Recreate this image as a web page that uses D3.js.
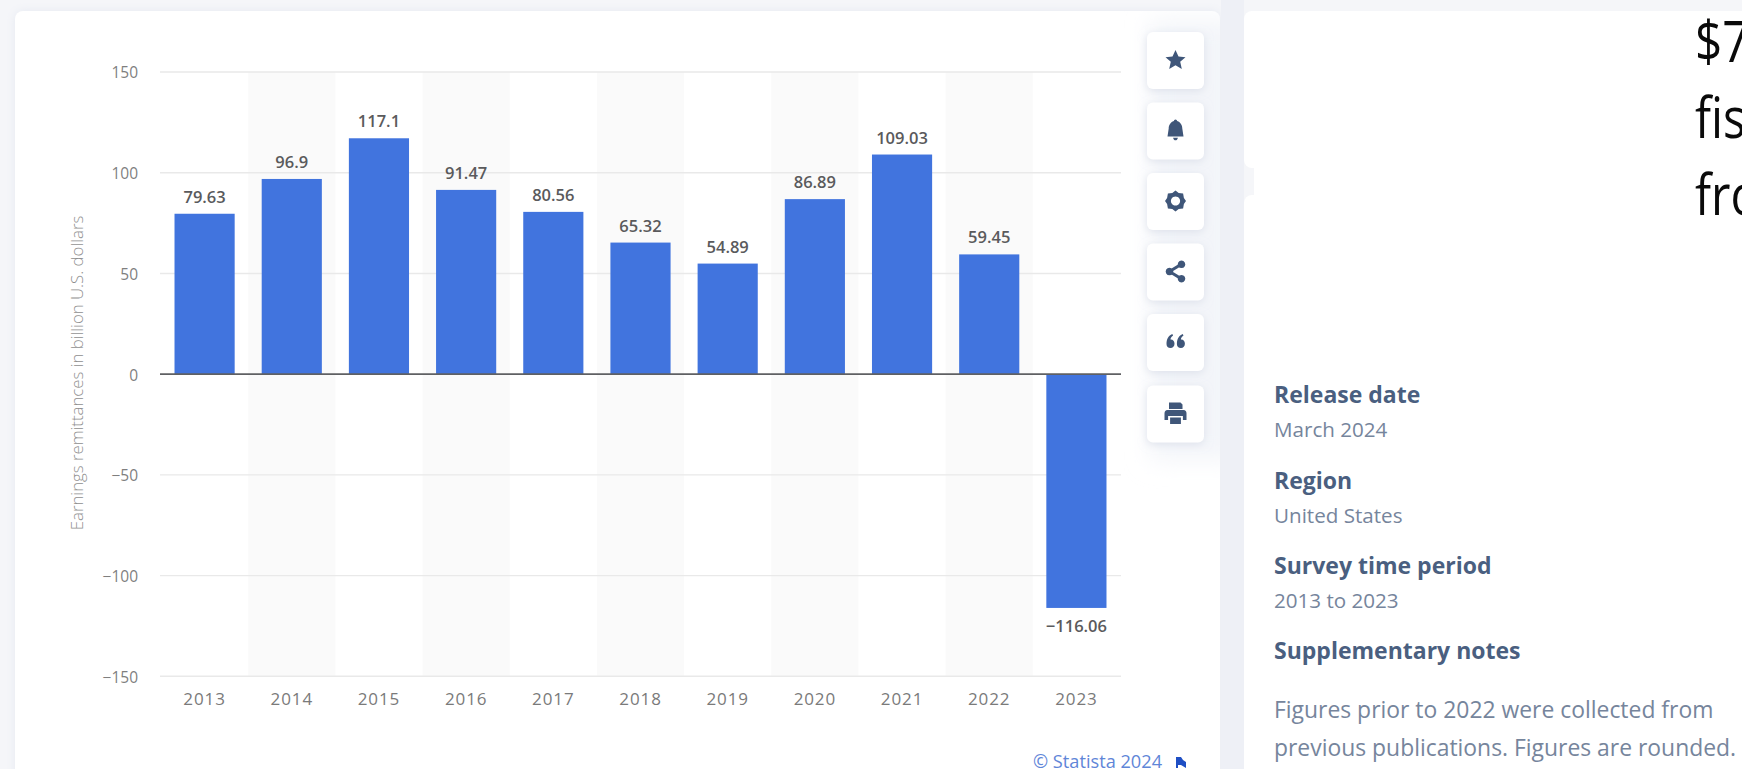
<!DOCTYPE html>
<html>
<head>
<meta charset="utf-8">
<script src="https://d3js.org/d3.v7.min.js"></script>
<style>
  html, body { margin: 0; padding: 0; background: #f5f6f9; overflow: hidden; }
  svg { display: block; }
  text { font-family: "Open Sans", "Noto Sans", sans-serif; }
</style>
</head>
<body>
<svg id="page" width="1742" height="769"></svg>
<script>
// Federal Reserve earnings remittances, billion U.S. dollars
const years = ["2013","2014","2015","2016","2017","2018","2019","2020","2021","2022","2023"];
const remittances = [79.63, 96.9, 117.1, 91.47, 80.56, 65.32, 54.89, 86.89, 109.03, 59.45, -116.06];
const valueLabels = ["79.63","96.9","117.1","91.47","80.56","65.32","54.89","86.89","109.03","59.45","\u2212116.06"];
const yTicks = [150, 100, 50, 0, -50, -100, -150];
const yAxisTitle = "Earnings remittances in billion U.S. dollars";
const sidebarHeadings = ["Release date", "Region", "Survey time period", "Supplementary notes"];
const sidebarValues = ["March 2024", "United States", "2013 to 2023"];
const sidebarNotes = ["Figures prior to 2022 were collected from", "previous publications. Figures are rounded."];
const overlayLines = ["$7", "fis", "fro"];

const svg = d3.select("#page");
const defs = svg.append("defs");

const cardShadow = defs.append("filter").attr("id", "cardShadow")
  .attr("x", "-10%").attr("y", "-10%").attr("width", "120%").attr("height", "120%");
cardShadow.append("feDropShadow").attr("dx", 0).attr("dy", 0).attr("stdDeviation", 5)
  .attr("flood-color", "#dfe3ee").attr("flood-opacity", 0.7);

const buttonShadow = defs.append("filter").attr("id", "buttonShadow")
  .attr("x", "-40%").attr("y", "-40%").attr("width", "180%").attr("height", "180%");
buttonShadow.append("feDropShadow").attr("dx", 0).attr("dy", 2).attr("stdDeviation", 4)
  .attr("flood-color", "#d3d8e5").attr("flood-opacity", 0.7);

const railHaze = defs.append("filter").attr("id", "railHaze")
  .attr("x", "-30%").attr("y", "-10%").attr("width", "160%").attr("height", "120%");
railHaze.append("feGaussianBlur").attr("stdDeviation", 12);

const cardClip = defs.append("clipPath").attr("id", "cardClip");
cardClip.append("rect").attr("x", 15).attr("y", 11).attr("width", 1205).attr("height", 780).attr("rx", 8);

// Page panels
svg.append("rect").attr("x", 0).attr("y", 0).attr("width", 1742).attr("height", 769).attr("fill", "#f5f6f9");
svg.append("rect").attr("x", 15).attr("y", 11).attr("width", 1205).attr("height", 780).attr("rx", 8)
  .attr("fill", "#fff").attr("filter", "url(#cardShadow)");
svg.append("g").attr("clip-path", "url(#cardClip)")
  .append("rect").attr("x", 1150).attr("y", 20).attr("width", 90).attr("height", 440)
  .attr("fill", "#f3f5f9").attr("filter", "url(#railHaze)");
svg.append("rect").attr("x", 1221).attr("y", 0).attr("width", 23).attr("height", 769).attr("fill", "#eef0f6");
svg.append("rect").attr("x", 1244).attr("y", 11).attr("width", 520).attr("height", 157).attr("rx", 8).attr("fill", "#fff");
svg.append("rect").attr("x", 1244).attr("y", 195).attr("width", 520).attr("height", 600).attr("rx", 8).attr("fill", "#fff");
svg.append("rect").attr("x", 1254).attr("y", 150).attr("width", 490).attr("height", 60).attr("fill", "#fff");

// Scales
const x = d3.scaleBand().domain(years).range([161, 1120]).paddingInner(0.31).paddingOuter(0.155);
const band = d3.scaleBand().domain(years).range([161, 1120]);
const y = d3.scaleLinear().domain([-150, 150]).range([676.3, 72]);

// Alternating column stripes
svg.append("g").selectAll("rect")
  .data(years.filter((d, i) => i % 2 === 1))
  .join("rect")
  .attr("x", d => band(d))
  .attr("y", y(150))
  .attr("width", band.bandwidth())
  .attr("height", y(-150) - y(150))
  .attr("fill", "#fafafa");

// Grid and value axis
const yAxis = d3.axisLeft(y).tickValues(yTicks).tickSize(0).tickPadding(0)
  .tickFormat(d => d3.format("d")(d).replace("-", "\u2212"));
const yG = svg.append("g").attr("transform", "translate(138,1)").call(yAxis);
yG.select(".domain").remove();
yG.selectAll("text").attr("font-size", 15.5).attr("fill", "#7f7f7f");

svg.append("g").selectAll("line")
  .data(yTicks.filter(d => d !== 0))
  .join("line")
  .attr("x1", 160).attr("x2", 1121)
  .attr("y1", d => y(d)).attr("y2", d => y(d))
  .attr("stroke", "#e9e9e9").attr("stroke-width", 1.4);

// Category axis
const xAxis = d3.axisBottom(band).tickSize(0).tickPadding(0);
const xG = svg.append("g").attr("transform", "translate(0,693)").call(xAxis);
xG.select(".domain").remove();
xG.selectAll("text").attr("font-size", 17).attr("fill", "#7a7a7a").attr("letter-spacing", 0.9);

// Bars
svg.append("g").selectAll("rect")
  .data(remittances)
  .join("rect")
  .attr("x", (d, i) => x(years[i]))
  .attr("y", d => Math.min(y(d), y(0)))
  .attr("width", x.bandwidth())
  .attr("height", d => Math.abs(y(d) - y(0)))
  .attr("fill", "#4174de");

// Zero line
svg.append("line")
  .attr("x1", 160).attr("x2", 1121)
  .attr("y1", y(0)).attr("y2", y(0))
  .attr("stroke", "#5f6063").attr("stroke-width", 1.8);

// Value labels
svg.append("g").selectAll("text")
  .data(remittances)
  .join("text")
  .attr("x", (d, i) => x(years[i]) + x.bandwidth() / 2)
  .attr("y", d => d >= 0 ? y(d) - 11 : y(d) + 24)
  .attr("text-anchor", "middle")
  .attr("font-size", 16.5)
  .attr("font-weight", 600)
  .attr("fill", "#5a5a5c")
  .text((d, i) => valueLabels[i]);

// Axis title
svg.append("text")
  .attr("transform", "translate(83,373) rotate(-90)")
  .attr("text-anchor", "middle")
  .attr("font-size", 16.8)
  .attr("font-weight", 300)
  .attr("fill", "#8f8f8f")
  .text(yAxisTitle);

// Copyright line
svg.append("text").attr("x", 1033).attr("y", 768).attr("font-size", 18.2)
  .attr("fill", "#5f86d8").text("\u00a9 Statista 2024");
svg.append("path").attr("transform", "translate(1175,757)")
  .attr("d", "M1 0H6L8 3L11 5V11L6 8L3 8V11H1Z").attr("fill", "#1f4fc4");

// Tool buttons
const buttonTops = [32, 102.5, 173, 243.5, 314, 385.5];
const iconPaths = [
  "M0 -10L3 -3.4L10 -2.8L4.7 1.8L6.3 9L0 5.2L-6.3 9L-4.7 1.8L-10 -2.8L-3 -3.4Z",
  "M0 -11C1 -11 1.5 -10.2 1.6 -9.6C5.4 -8.4 6.8 -5 6.8 -2L8 6H-8L-6.8 -2C-6.8 -5 -5.4 -8.4 -1.6 -9.6C-1.5 -10.2 -1 -11 0 -11ZM-2.4 7.2H2.4C2.2 8.8 1 9.8 0 9.8C-1 9.8 -2.2 8.8 -2.4 7.2Z",
  "M0 -10.5L3.2 -8L7.6 -7.6L8.4 -3L10.5 0L8.4 3L7.6 7.6L3.2 8L0 10.5L-3.2 8L-7.6 7.6L-8.4 3L-10.5 0L-8.4 -3L-7.6 -7.6L-3.2 -8ZM0 -4.6A4.6 4.6 0 1 0 0.01 -4.6Z",
  "M6 -11A3.8 3.8 0 1 1 5.99 -11ZM-6 -3.8A3.8 3.8 0 1 1 -6.01 -3.8ZM6 3.4A3.8 3.8 0 1 1 5.99 3.4ZM-6.8 -1.2L5 -8.4L6.6 -6L-5.2 1.2ZM-5.2 -1.2L6.6 6L5 8.4L-6.8 1.2Z",
  "M-9 2C-9 -3 -7 -6.5 -3.2 -8L-2.4 -6.6C-4.2 -5.4 -5 -4 -5 -2.4C-2.6 -2.6 -1 -0.8 -1 1.8C-1 4.4 -2.6 6 -5 6C-7.4 6 -9 4.4 -9 2ZM1.4 2C1.4 -3 3.4 -6.5 7.2 -8L8 -6.6C6.2 -5.4 5.4 -4 5.4 -2.4C7.8 -2.6 9.4 -0.8 9.4 1.8C9.4 4.4 7.8 6 5.4 6C3 6 1.4 4.4 1.4 2Z",
  "M-6.5 -11H5L7 -9V-4.5H-6.5ZM-8 -3.5H8C10 -3.5 11 -2 11 0V6.5H7.4V2.5H-7.4V6.5H-11V0C-11 -2 -10 -3.5 -8 -3.5ZM-5.4 4H5.4V10.5H-5.4Z"
];
const buttons = svg.append("g").selectAll("g")
  .data(buttonTops)
  .join("g")
  .attr("transform", d => `translate(1147,${d})`);
buttons.append("rect")
  .attr("width", 57).attr("height", 57).attr("rx", 6)
  .attr("fill", "#fff").attr("filter", "url(#buttonShadow)");
// The share glyph is built from overlapping shapes, so it fills by winding
buttons.append("path")
  .attr("transform", "translate(28.5,28)")
  .attr("d", (d, i) => iconPaths[i])
  .attr("fill", "#3f5679")
  .attr("fill-rule", (d, i) => i === 3 ? "nonzero" : "evenodd");

// Sidebar details
const headingBaselines = [402.5, 488.5, 573.5, 658.5];
svg.append("g").selectAll("text")
  .data(sidebarHeadings)
  .join("text")
  .attr("x", 1274).attr("y", (d, i) => headingBaselines[i])
  .attr("font-size", 23).attr("font-weight", 700).attr("fill", "#4a5f80")
  .text(d => d);
const valueBaselines = [437, 523, 608];
svg.append("g").selectAll("text")
  .data(sidebarValues)
  .join("text")
  .attr("x", 1274).attr("y", (d, i) => valueBaselines[i])
  .attr("font-size", 20.6).attr("fill", "#76859c")
  .text(d => d);
const noteBaselines = [718, 755.5];
svg.append("g").selectAll("text")
  .data(sidebarNotes)
  .join("text")
  .attr("x", 1274).attr("y", (d, i) => noteBaselines[i])
  .attr("font-size", 22.9).attr("fill", "#76859c")
  .text(d => d);

// Large heading running off the right edge, set slightly condensed
const overlayBaselines = [62, 138, 215];
svg.append("g").selectAll("text")
  .data(overlayLines)
  .join("text")
  .attr("transform", (d, i) => `translate(1695,${overlayBaselines[i]}) scale(0.85,1)`)
  .attr("font-size", 56).attr("fill", "#0a0a0a")
  .text(d => d);
</script>
</body>
</html>
